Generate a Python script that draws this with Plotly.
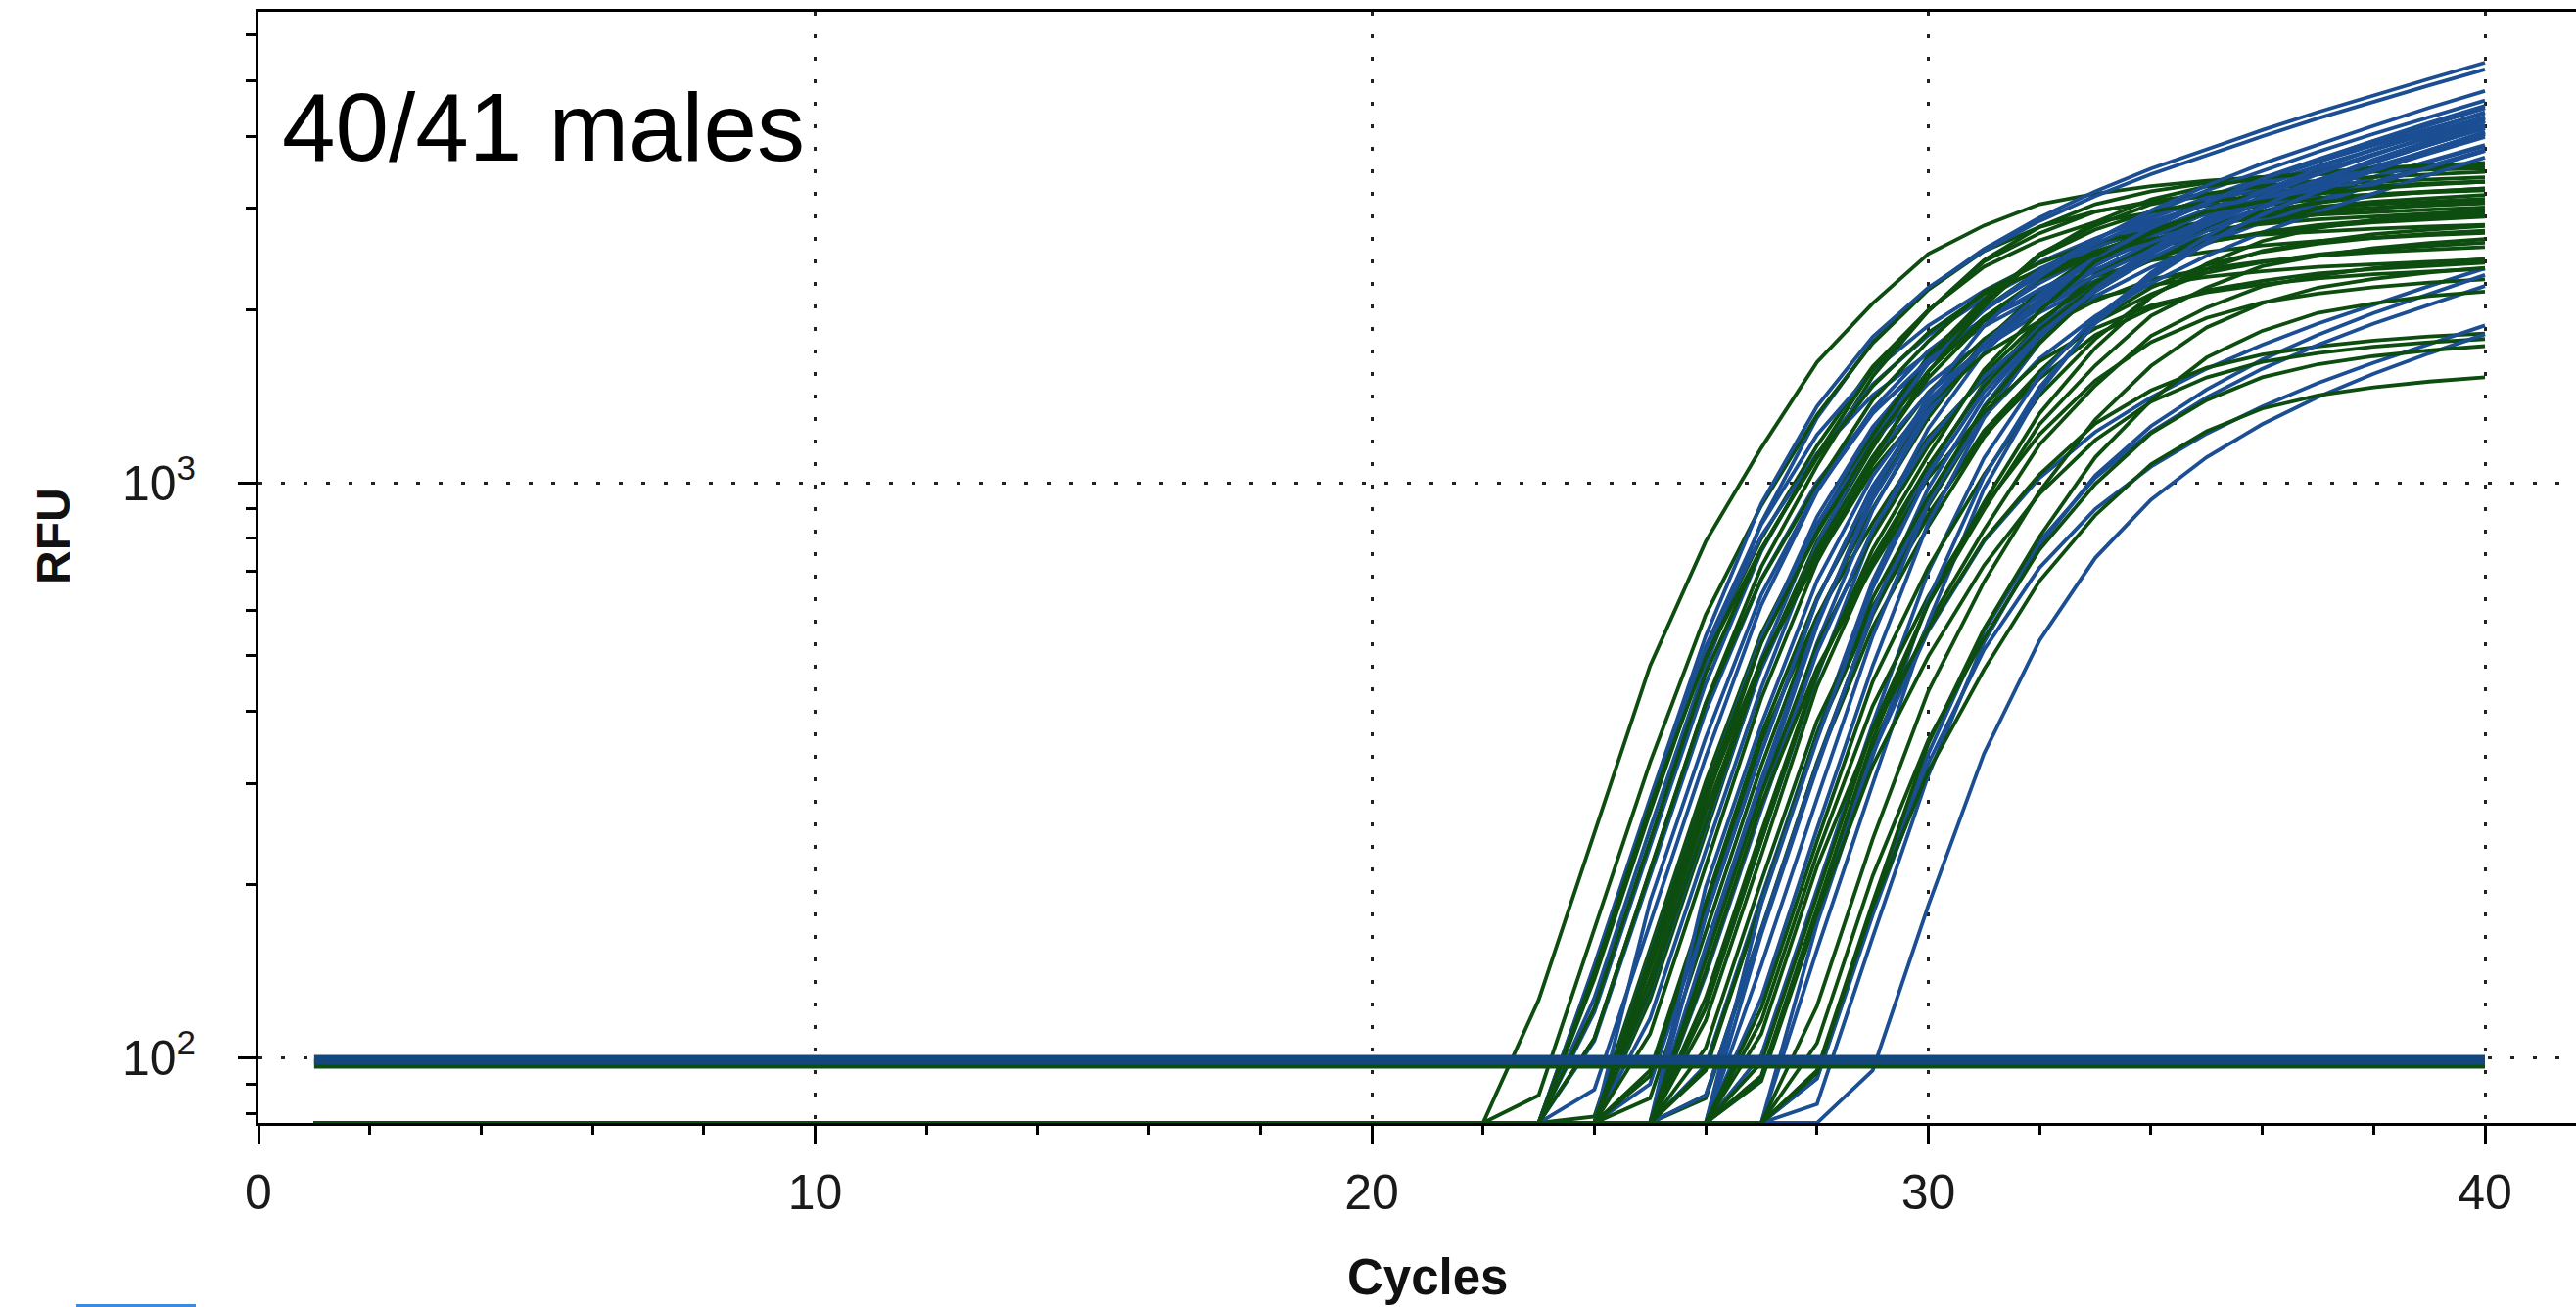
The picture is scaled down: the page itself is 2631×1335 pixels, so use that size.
import plotly.graph_objects as go

# ---------------- data ----------------
cycles = list(range(1, 41))
rfu_floor = 77          # values below the visible range sit on the bottom edge
threshold_hex = 97.6    # green threshold line
threshold_fam = 99.2    # blue threshold line

x_tick_vals = [0, 10, 20, 30, 40]
x_tick_text = ["0", "10", "20", "30", "40"]
x_minor_vals = [2, 4, 6, 8, 12, 14, 16, 18, 22, 24, 26, 28, 32, 34, 36, 38]
y_tick_vals = [100, 1000]
y_tick_text = ["10<sup>2</sup>", "10<sup>3</sup>"]
y_minor_vals = [80, 90, 200, 300, 400, 500, 600, 700, 800, 900,
                2000, 3000, 4000, 5000, 6000]

# HEX (green) curves: first cycle above the floor, then RFU up to cycle 40
hex_start = [23, 23, 24, 24, 24, 24, 24, 24, 25, 25, 25, 25, 25, 25, 25, 25, 25, 25,
             26, 26, 26, 26, 26, 26, 26, 26, 26, 26, 27, 27, 27, 27, 27, 27, 27,
             28, 28, 28, 28]
hex_rfu = [
    [126, 245, 480, 790, 1150, 1620, 2050, 2500, 2800, 3050, 3180, 3280, 3350, 3400, 3440, 3470, 3500, 3520],
    [86, 167, 326, 589, 912, 1311, 1748, 2166, 2527, 2784, 2964, 3069, 3149, 3206, 3249, 3282, 3311, 3335],
    [137, 267, 506, 800, 1159, 1592, 1996, 2374, 2640, 2838, 2949, 3036, 3091, 3137, 3172, 3200, 3225],
    [108, 212, 414, 714, 1071, 1530, 1989, 2438, 2785, 3050, 3213, 3320, 3399, 3456, 3499, 3531, 3562],
    [79, 155, 302, 546, 845, 1214, 1619, 2006, 2341, 2578, 2746, 2842, 2917, 2970, 3010, 3040, 3067],
    [122, 238, 466, 766, 1116, 1571, 1989, 2425, 2716, 2959, 3085, 3182, 3250, 3298, 3337, 3366, 3395],
    [141, 274, 496, 768, 1104, 1472, 1824, 2128, 2344, 2496, 2584, 2652, 2700, 2736, 2764, 2788, 2808],
    [108, 211, 413, 679, 989, 1393, 1763, 2150, 2408, 2623, 2735, 2821, 2881, 2924, 2958, 2984, 3010],
    [126, 245, 480, 790, 1150, 1620, 2050, 2500, 2800, 3050, 3180, 3280, 3350, 3400, 3440, 3470],
    [95, 187, 365, 630, 945, 1350, 1755, 2151, 2457, 2691, 2835, 2930, 2999, 3049, 3087, 3116],
    [143, 278, 528, 835, 1210, 1661, 2083, 2477, 2755, 2962, 3077, 3168, 3226, 3274, 3310, 3339],
    [137, 268, 484, 749, 1076, 1435, 1778, 2075, 2285, 2434, 2519, 2586, 2633, 2668, 2695, 2718],
    [85, 165, 322, 583, 902, 1297, 1730, 2143, 2500, 2754, 2933, 3036, 3116, 3173, 3215, 3248],
    [93, 181, 355, 585, 851, 1199, 1517, 1850, 2072, 2257, 2353, 2427, 2479, 2516, 2546, 2568],
    [131, 255, 484, 766, 1109, 1522, 1910, 2270, 2526, 2715, 2820, 2904, 2957, 3001, 3034, 3061],
    [110, 216, 422, 728, 1092, 1560, 2028, 2486, 2839, 3110, 3276, 3385, 3465, 3524, 3567, 3600],
    [150, 292, 527, 816, 1173, 1564, 1938, 2261, 2491, 2652, 2746, 2818, 2869, 2907, 2937, 2962],
    [146, 284, 490, 735, 1050, 1365, 1673, 1911, 2093, 2205, 2279, 2332, 2372, 2401, 2423, 2444],
    [116, 225, 442, 727, 1058, 1490, 1886, 2300, 2576, 2806, 2926, 3018, 3082, 3128, 3165],
    [85, 166, 325, 560, 840, 1200, 1560, 1912, 2184, 2392, 2520, 2604, 2666, 2710, 2744],
    [104, 203, 385, 609, 882, 1211, 1519, 1806, 2009, 2160, 2244, 2310, 2352, 2387, 2414],
    [148, 288, 521, 806, 1159, 1546, 1915, 2234, 2461, 2621, 2713, 2785, 2835, 2873, 2902],
    [86, 167, 326, 589, 912, 1311, 1748, 2166, 2527, 2784, 2964, 3069, 3149, 3206, 3249],
    [96, 186, 365, 600, 874, 1231, 1558, 1900, 2128, 2318, 2417, 2493, 2546, 2584, 2614],
    [127, 247, 468, 740, 1071, 1471, 1845, 2193, 2440, 2622, 2724, 2805, 2856, 2899, 2931],
    [141, 276, 476, 714, 1020, 1326, 1625, 1856, 2033, 2142, 2213, 2266, 2304, 2332, 2354],
    [95, 187, 365, 630, 945, 1350, 1755, 2151, 2457, 2691, 2835, 2930, 2999, 3049, 3087],
    [122, 238, 466, 766, 1116, 1571, 1989, 2425, 2716, 2959, 3085, 3182, 3250, 3298, 3337],
    [91, 176, 346, 569, 828, 1166, 1476, 1800, 2016, 2196, 2290, 2362, 2412, 2448],
    [122, 238, 451, 713, 1033, 1419, 1779, 2116, 2353, 2530, 2628, 2706, 2755, 2796],
    [116, 226, 409, 634, 911, 1214, 1505, 1756, 1934, 2059, 2132, 2188, 2228, 2257],
    [93, 183, 357, 616, 924, 1320, 1716, 2103, 2402, 2631, 2772, 2864, 2932, 2981],
    [110, 215, 371, 557, 795, 1034, 1267, 1447, 1585, 1670, 1725, 1766, 1796, 1818],
    [98, 191, 374, 616, 897, 1264, 1599, 1950, 2184, 2379, 2480, 2558, 2613, 2652],
    [92, 178, 322, 499, 718, 957, 1186, 1383, 1524, 1622, 1680, 1724, 1755, 1778],
    [95, 186, 352, 557, 806, 1107, 1389, 1651, 1837, 1974, 2051, 2112, 2150],
    [106, 207, 357, 536, 765, 995, 1219, 1392, 1525, 1607, 1660, 1699, 1728],
    [123, 240, 434, 672, 966, 1288, 1596, 1862, 2051, 2184, 2261, 2321, 2363],
    [94, 183, 315, 473, 675, 878, 1076, 1229, 1346, 1418, 1465, 1499, 1525],
]

# FAM (blue) curves
fam_start = [24, 24, 24, 24, 24, 24, 24, 25, 25, 25, 25, 25, 25, 25,
             26, 26, 26, 26, 26, 26, 26, 26, 26, 27, 27, 27, 27, 27, 27,
             28, 28, 28, 28, 28, 29]
fam_rfu = [
    [127, 250, 480, 852, 1296, 1758, 2178, 2550, 2892, 3210, 3516, 3804, 4104, 4410, 4722, 5040, 5376],
    [145, 282, 541, 920, 1357, 1794, 2185, 2530, 2852, 3151, 3439, 3715, 4002, 4301, 4600, 4911, 5233],
    [142, 276, 518, 846, 1211, 1563, 1876, 2157, 2418, 2660, 2898, 3126, 3368, 3615, 3862, 4123, 4389],
    [120, 233, 447, 760, 1121, 1482, 1805, 2090, 2356, 2603, 2841, 3069, 3306, 3553, 3800, 4057, 4323],
    [144, 279, 513, 808, 1123, 1419, 1681, 1919, 2140, 2349, 2550, 2751, 2960, 3173, 3391, 3616, 3846],
    [88, 172, 333, 613, 965, 1343, 1695, 2009, 2293, 2558, 2808, 3048, 3288, 3538, 3793, 4052, 4322],
    [107, 208, 400, 680, 1003, 1326, 1615, 1870, 2108, 2329, 2542, 2746, 2958, 3179, 3400, 3630, 3868],
    [132, 257, 494, 840, 1239, 1638, 1995, 2310, 2604, 2877, 3140, 3392, 3654, 3927, 4200, 4484],
    [146, 284, 534, 872, 1250, 1612, 1936, 2225, 2494, 2744, 2989, 3224, 3474, 3729, 3984, 4253],
    [117, 229, 440, 781, 1188, 1612, 1997, 2338, 2651, 2943, 3223, 3487, 3762, 4043, 4329, 4620],
    [151, 292, 538, 847, 1178, 1488, 1763, 2012, 2245, 2464, 2675, 2885, 3105, 3328, 3556, 3793],
    [90, 176, 340, 625, 985, 1370, 1730, 2050, 2340, 2610, 2865, 3110, 3355, 3610, 3870, 4135],
    [187, 360, 639, 972, 1319, 1634, 1913, 2169, 2408, 2637, 2853, 3078, 3308, 3542, 3780, 4032],
    [130, 252, 474, 774, 1109, 1431, 1718, 1975, 2214, 2436, 2654, 2862, 3084, 3310, 3537, 3776],
    [141, 274, 526, 896, 1322, 1747, 2128, 2464, 2778, 3069, 3349, 3618, 3898, 4189, 4480],
    [156, 305, 572, 935, 1339, 1727, 2074, 2384, 2672, 2940, 3203, 3455, 3722, 3995, 4268],
    [122, 239, 460, 817, 1242, 1685, 2087, 2444, 2772, 3076, 3370, 3646, 3933, 4226, 4525],
    [176, 340, 625, 985, 1370, 1730, 2050, 2340, 2610, 2865, 3110, 3355, 3610, 3870, 4135],
    [97, 190, 367, 675, 1064, 1480, 1868, 2214, 2527, 2819, 3094, 3359, 3623, 3899, 4180],
    [198, 380, 675, 1026, 1392, 1724, 2019, 2290, 2541, 2784, 3012, 3249, 3491, 3738, 3990],
    [151, 294, 564, 960, 1416, 1872, 2280, 2640, 2976, 3288, 3588, 3876, 4176, 4488, 4800],
    [139, 270, 507, 828, 1186, 1530, 1837, 2111, 2367, 2604, 2837, 3060, 3297, 3539, 3780],
    [86, 167, 323, 594, 936, 1302, 1644, 1948, 2223, 2480, 2722, 2955, 3187, 3430, 3677],
    [145, 282, 541, 920, 1357, 1794, 2185, 2530, 2852, 3151, 3439, 3715, 4002, 4301],
    [127, 250, 480, 852, 1296, 1758, 2178, 2550, 2892, 3210, 3516, 3804, 4104, 4410],
    [164, 319, 600, 979, 1403, 1810, 2173, 2497, 2800, 3080, 3355, 3619, 3900, 4186],
    [185, 357, 656, 1034, 1439, 1817, 2153, 2457, 2741, 3008, 3266, 3523, 3791, 4064],
    [101, 197, 381, 700, 1103, 1534, 1938, 2296, 2621, 2923, 3209, 3483, 3758, 4043],
    [92, 180, 338, 552, 791, 1020, 1225, 1407, 1578, 1736, 1891, 2040, 2198, 2359],
    [154, 299, 573, 976, 1440, 1903, 2318, 2684, 3026, 3343, 3648, 3941, 4246],
    [171, 334, 627, 1024, 1466, 1892, 2271, 2611, 2927, 3220, 3508, 3784, 4077],
    [83, 162, 310, 528, 779, 1030, 1254, 1452, 1637, 1808, 1973, 2132, 2297],
    [92, 180, 338, 552, 791, 1020, 1225, 1407, 1578, 1736, 1891, 2040, 2198],
    [92, 177, 325, 512, 712, 900, 1066, 1217, 1357, 1490, 1617, 1745, 1877],
    [95, 184, 338, 532, 740, 934, 1107, 1264, 1409, 1547, 1679, 1812],
]

annotation_text = "40/41 males"
x_title = "Cycles"
y_title = "RFU"

# ---------------- styling ----------------
GREEN = "#0d4d10"
BLUE = "#1b4e92"
BLUE_THR = "#15477f"
FONT = "Liberation Sans, Arial, sans-serif"
W, H = 2631, 1335
ML, MR, MT, MB = 264, 0, 12, 188
X_MAX = (W - ML) / 56.85
Y_RANGE = [1.8865, 3.819]
PLOT_H = H - MB - MT


def full_series(start, values):
    return [rfu_floor] * (start - cycles[0]) + values


fig = go.Figure()
n = max(len(hex_start), len(fam_start))
for i in range(n):
    if i < len(hex_start):
        fig.add_trace(go.Scatter(x=cycles, y=full_series(hex_start[i], hex_rfu[i]),
                                 mode="lines", line=dict(color=GREEN, width=3.8),
                                 hoverinfo="skip", showlegend=False))
    if i < len(fam_start):
        fig.add_trace(go.Scatter(x=cycles, y=full_series(fam_start[i], fam_rfu[i]),
                                 mode="lines", line=dict(color=BLUE, width=3.8),
                                 hoverinfo="skip", showlegend=False))

# threshold lines
fig.add_trace(go.Scatter(x=[cycles[0], cycles[-1]], y=[threshold_hex, threshold_hex],
                         mode="lines", line=dict(color=GREEN, width=10),
                         hoverinfo="skip", showlegend=False))
fig.add_trace(go.Scatter(x=[cycles[0], cycles[-1]], y=[threshold_fam, threshold_fam],
                         mode="lines", line=dict(color=BLUE_THR, width=10),
                         hoverinfo="skip", showlegend=False))

tick_font = dict(family=FONT, size=50, color="#1a1a1a")

fig.update_layout(
    width=W, height=H,
    margin=dict(l=ML, r=MR, t=MT, b=MB, pad=0),
    paper_bgcolor="white", plot_bgcolor="white",
    showlegend=False,
    xaxis=dict(
        range=[0, X_MAX], tickmode="array", tickvals=x_tick_vals, ticktext=x_tick_text,
        ticks="outside", ticklen=19, tickwidth=3, tickcolor="black",
        showline=True, linewidth=3, linecolor="black", mirror=True,
        showgrid=True, gridcolor="#222222", gridwidth=3, griddash="4px,19px",
        zeroline=False, tickfont=tick_font, ticklabelstandoff=6,
        minor=dict(tickvals=x_minor_vals, ticks="outside", ticklen=9,
                   tickwidth=3, tickcolor="black", showgrid=False),
    ),
    xaxis2=dict(
        overlaying="x", anchor="y", side="bottom",
        range=[0, X_MAX], tickmode="array", tickvals=x_tick_vals,
        ticks="inside", ticklen=19, tickwidth=3, tickcolor="black",
        showline=True, linewidth=3, linecolor="black", mirror="ticks",
        showgrid=False, zeroline=False, showticklabels=False,
        minor=dict(tickvals=x_minor_vals, ticks="inside", ticklen=9,
                   tickwidth=3, tickcolor="black", showgrid=False),
    ),
    yaxis=dict(
        type="log", range=Y_RANGE, tickmode="array", tickvals=y_tick_vals,
        ticktext=y_tick_text,
        ticks="outside", ticklen=18, tickwidth=3, tickcolor="black",
        showline=True, linewidth=3, linecolor="black", mirror=False,
        showgrid=True, gridcolor="#222222", gridwidth=3, griddash="4px,19px",
        zeroline=False, tickfont=tick_font, ticklabelstandoff=33,
        minor=dict(tickvals=y_minor_vals, ticks="outside", ticklen=10,
                   tickwidth=3, tickcolor="black", showgrid=False),
    ),
    yaxis2=dict(
        overlaying="y", anchor="x", side="left",
        type="log", range=Y_RANGE, tickmode="array", tickvals=y_tick_vals,
        ticks="inside", ticklen=18, tickwidth=3, tickcolor="black",
        showline=False, showgrid=False, zeroline=False, showticklabels=False,
        minor=dict(tickvals=y_minor_vals, ticks="inside", ticklen=10,
                   tickwidth=3, tickcolor="black", showgrid=False),
    ),
    annotations=[
        dict(text=annotation_text, xref="paper", yref="paper",
             x=(286 - ML) / (W - ML), y=(H - MB - 130) / PLOT_H,
             xanchor="left", yanchor="middle", showarrow=False,
             font=dict(family=FONT, size=98, color="black")),
        dict(text="<b>" + x_title + "</b>", xref="x", yref="paper",
             x=21, y=(H - MB - 1304) / PLOT_H,
             xanchor="center", yanchor="middle", showarrow=False,
             font=dict(family=FONT, size=51, color="#111111")),
        dict(text="<b>" + y_title + "</b>", xref="paper", yref="paper",
             x=(54 - ML) / (W - ML), y=(H - MB - 548) / PLOT_H,
             xanchor="center", yanchor="middle", textangle=-90, showarrow=False,
             font=dict(family=FONT, size=48, color="#111111")),
    ],
    shapes=[
        dict(type="rect", xref="paper", yref="paper",
             x0=(78 - ML) / (W - ML), x1=(200 - ML) / (W - ML),
             y0=(H - MB - 1335) / PLOT_H, y1=(H - MB - 1332) / PLOT_H,
             fillcolor="#3d8ae6", line=dict(width=0)),
    ],
)

fig.write_html("out.html")
